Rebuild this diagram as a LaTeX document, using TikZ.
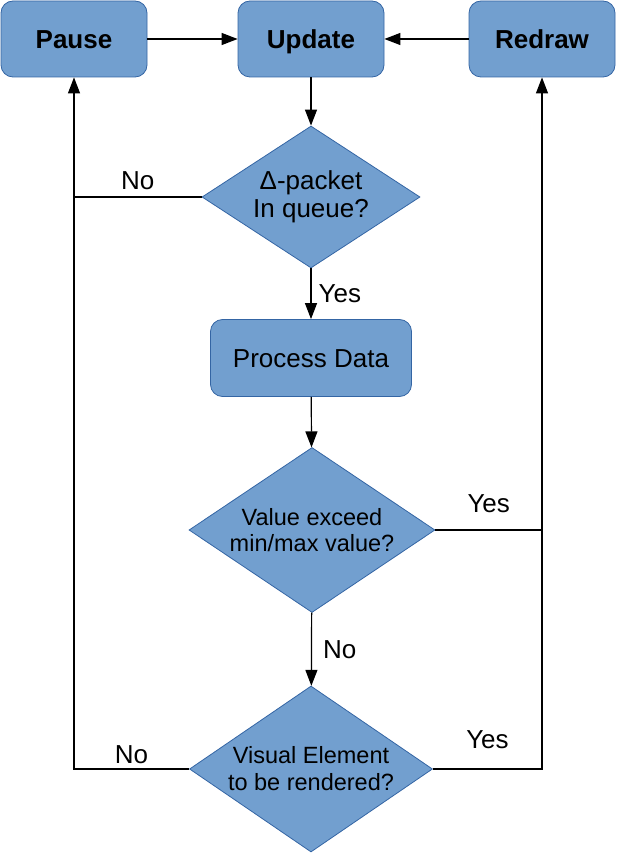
\documentclass[tikz,border=0pt]{standalone}
\usepackage{fontspec}
\setmainfont{Liberation Sans}
\usetikzlibrary{arrows.meta,shapes.geometric}

\definecolor{flowfill}{HTML}{729FCF}
\definecolor{flowline}{HTML}{3465A4}

\tikzset{
    box/.style={rectangle, rounded corners=12pt, draw=flowline, fill=flowfill, line width=0.8pt,
        minimum width=146pt, minimum height=76pt, text height=18.6pt, text depth=0pt,
        font=\fontsize{26}{30}\selectfont\bfseries},
    decision/.style={diamond, draw=flowline, fill=flowfill, line width=0.8pt,
        inner sep=0pt, shape aspect=1.5, align=center},
    flow/.style={line width=1.2pt, -{Triangle[length=16pt,width=12pt]}},
    wire/.style={line width=1.2pt},
    answer/.style={inner sep=0pt, font=\fontsize{26}{30}\selectfont},
}

\begin{document}
\begin{tikzpicture}[x=1pt,y=-1pt]
            % Render loop
            \useasboundingbox (0,0) rectangle (616,853);

            \node[box] (pause) at (74,39) {Pause};
            \node[box] (update) at (311,39) {Update};
            \node[box] (redraw) at (542,39) {Redraw};

            \node[decision, minimum width=218pt, minimum height=142pt,
                font=\fontsize{26}{28}\selectfont] (queue) at (311,197) {Δ-packet\\In queue?};
            \node[box, minimum width=201pt, minimum height=77pt, font=\fontsize{26}{30}\selectfont]
                (process) at (311,358) {Process Data};
            \node[decision, minimum width=246pt, minimum height=165pt,
                font=\fontsize{23.5}{26}\selectfont] (exceed) at (312,530) {Value exceed\\min/max value?};
            \node[decision, minimum width=243pt, minimum height=166pt,
                font=\fontsize{23.5}{27}\selectfont] (render) at (311,769) {Visual Element\\to be rendered?};

            \draw[flow] (pause) -- (update);
            \draw[flow] (redraw) -- (update);
            \draw[flow] (update) -- (queue);
            \draw[flow] (queue) -- node[answer, right=7pt] {Yes} (process);
            \draw[flow] (process) -- (exceed);
            \draw[flow] (exceed) -- node[answer, right=11pt] {No} (render);

            % No branches back to Pause
            \draw[wire] (queue.west) -- node[answer, above=7pt] {No} (queue.west -| pause.south);
            \draw[flow] (render.west) -- node[answer, above=5pt] {No} (render.west -| pause.south) -- (pause.south);

            % Yes branches up to Redraw
            \draw[wire] (exceed.east) -- node[answer, above=17pt] {Yes} (exceed.east -| redraw.south);
            \draw[flow] (render.east) -- node[answer, above=20pt] {Yes} (render.east -| redraw.south) -- (redraw.south);
        \end{tikzpicture}
\end{document}
